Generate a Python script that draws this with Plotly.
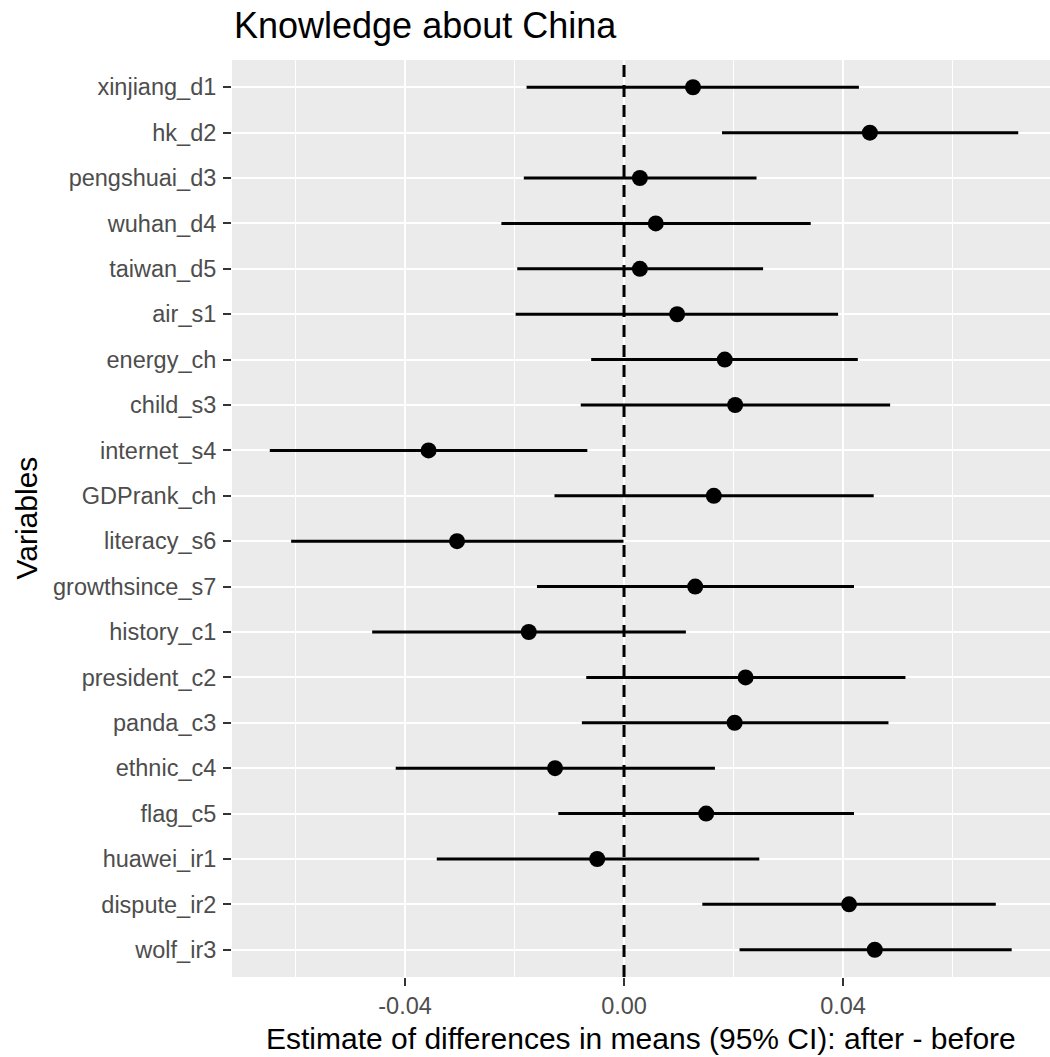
import plotly.graph_objects as go

categories = ["xinjiang_d1", "hk_d2", "pengshuai_d3", "wuhan_d4", "taiwan_d5", "air_s1",
              "energy_ch", "child_s3", "internet_s4", "GDPrank_ch", "literacy_s6",
              "growthsince_s7", "history_c1", "president_c2", "panda_c3", "ethnic_c4",
              "flag_c5", "huawei_ir1", "dispute_ir2", "wolf_ir3"]
estimate = [0.0126, 0.0449, 0.0029, 0.0058, 0.0029, 0.0097, 0.0184, 0.0203, -0.0357, 0.0164,
            -0.0305, 0.0130, -0.0174, 0.0222, 0.0202, -0.0126, 0.0150, -0.0049, 0.0411, 0.0458]
lower = [-0.0178, 0.0179, -0.0183, -0.0224, -0.0195, -0.0198, -0.0060, -0.0079, -0.0647, -0.0127,
         -0.0608, -0.0159, -0.0460, -0.0069, -0.0077, -0.0417, -0.0120, -0.0342, 0.0143, 0.0211]
upper = [0.0429, 0.0720, 0.0242, 0.0341, 0.0254, 0.0391, 0.0427, 0.0486, -0.0067, 0.0456,
         -0.0001, 0.0420, 0.0113, 0.0514, 0.0483, 0.0166, 0.0420, 0.0247, 0.0679, 0.0708]
x_major_ticks = [-0.04, 0.0, 0.04]
x_major_labels = ["-0.04", "0.00", "0.04"]
x_minor_ticks = [-0.06, -0.02, 0.02, 0.06]

FONT = "Liberation Sans, Arial, Helvetica, sans-serif"

fig = go.Figure()
fig.add_trace(go.Scatter(
    x=estimate, y=categories, mode="markers",
    marker=dict(color="black", size=16),
    error_x=dict(type="data", symmetric=False,
                 array=[u - e for u, e in zip(upper, estimate)],
                 arrayminus=[e - l for e, l in zip(estimate, lower)],
                 color="black", thickness=3, width=0),
    showlegend=False, hoverinfo="skip",
))

fig.add_shape(type="line", xref="x", yref="paper", x0=0, x1=0, y0=0, y1=1,
              line=dict(color="black", width=3, dash="12px,8px"), layer="above")

fig.update_layout(
    width=1050, height=1057,
    margin=dict(l=232, r=0, t=60, b=80),
    paper_bgcolor="white", plot_bgcolor="#EBEBEB",
    font=dict(family=FONT, color="#4D4D4D"),
    xaxis=dict(
        range=[-0.0716, 0.0778],
        tickvals=x_major_ticks, ticktext=x_major_labels,
        showgrid=True, gridcolor="white", gridwidth=2.4,
        zeroline=False, showline=False,
        ticks="outside", ticklen=8, tickwidth=2.2, tickcolor="#333333",
        tickfont=dict(size=23.5, color="#4D4D4D", family=FONT),
        minor=dict(tickvals=x_minor_ticks, showgrid=True, gridcolor="white",
                   gridwidth=1.2, ticks=""),
    ),
    yaxis=dict(
        categoryorder="array", categoryarray=categories,
        range=[len(categories) - 0.4, -0.6],
        showgrid=True, gridcolor="white", gridwidth=2.4,
        zeroline=False, showline=False,
        ticks="outside", ticklen=8, tickwidth=2.2, tickcolor="#333333",
        tickfont=dict(size=23.5, color="#4D4D4D", family=FONT),
        ticklabelstandoff=2,
    ),
    annotations=[
        dict(text="Knowledge about China", xref="paper", yref="paper",
             x=0, y=1 + 35 / 917, xanchor="left", yanchor="middle", showarrow=False,
             font=dict(size=36, color="black", family=FONT)),
        dict(text="Estimate of differences in means (95% CI): after - before",
             xref="paper", yref="paper", x=0.5, y=-61 / 917,
             xanchor="center", yanchor="middle", showarrow=False,
             font=dict(size=30, color="black", family=FONT)),
        dict(text="Variables", xref="paper", yref="paper", x=-206 / 818, y=0.5,
             xanchor="center", yanchor="middle", showarrow=False, textangle=-90,
             font=dict(size=30, color="black", family=FONT)),
    ],
)

fig.write_html("out.html")
